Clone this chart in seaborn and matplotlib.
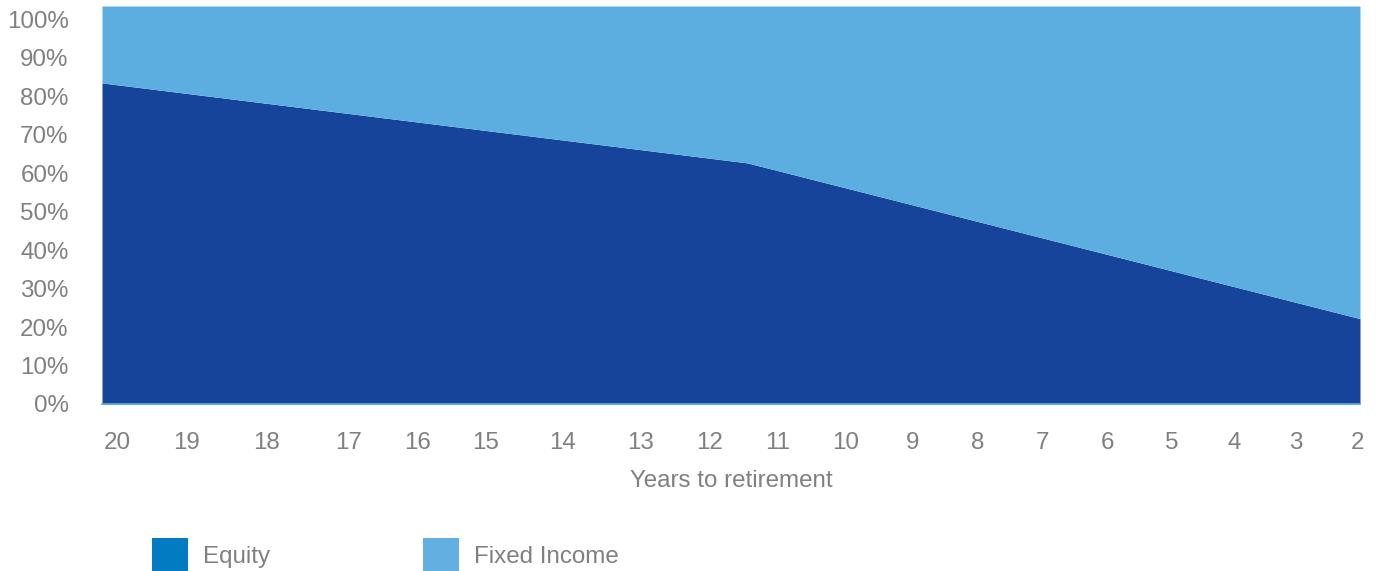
import matplotlib
matplotlib.use("Agg")
import matplotlib.pyplot as plt
from matplotlib.patches import Patch
import seaborn as sns

# glide path: position along the path (0 = 20 years out, 1 = 2 years out)
path_pos = [0.0, 0.513, 1.0]
equity = [83.5, 62.7, 22.2]
fixed_income = [100 - e for e in equity]

years = [20, 19, 18, 17, 16, 15, 14, 13, 12, 11, 10, 9, 8, 7, 6, 5, 4, 3, 2]
year_pos = [0.012, 0.067, 0.131, 0.196, 0.251, 0.305, 0.366, 0.428, 0.483,
            0.537, 0.591, 0.644, 0.696, 0.748, 0.799, 0.850, 0.900, 0.949, 0.998]
pct_ticks = list(range(0, 101, 10))

sns.set_theme(style="white")
plt.rcParams["font.family"] = ["Liberation Sans", "DejaVu Sans"]

gray = "#808080"
dark = "#15449a"
light = "#5daee0"
ymax = 103.5
fs = 17.4

fig = plt.figure(figsize=(13.83, 5.71), dpi=100)
ax = fig.add_axes([102 / 1383, 1 - 404 / 571, 1258 / 1383, 398 / 571])

ax.fill_between(path_pos, 0, equity, color=dark, lw=0)
ax.fill_between(path_pos, equity, ymax, color=light, lw=0)

ax.set_xlim(0, 1)
ax.set_ylim(0, ymax)
ax.set_yticks(pct_ticks)
ax.set_yticklabels([f"{p}%" for p in pct_ticks])
ax.set_xticks(year_pos)
ax.set_xticklabels([str(y) for y in years])
ax.tick_params(axis="y", length=0, pad=24, labelsize=fs, labelcolor=gray)
ax.tick_params(axis="x", length=0, pad=20, labelsize=fs, labelcolor=gray)
ax.set_xlabel("Years to retirement", fontsize=fs, color=gray, labelpad=12)

for s in ["top", "right", "left"]:
    ax.spines[s].set_visible(False)
ax.spines["bottom"].set_color(light)
ax.spines["bottom"].set_linewidth(1.2)

handles = [Patch(facecolor="#027bc2", edgecolor="none", label="Equity"),
           Patch(facecolor="#64afe2", edgecolor="none", label="Fixed Income")]
fig.legend(handles=handles, loc="center left", bbox_to_anchor=(152 / 1383, 1 - 555 / 571),
           ncol=2, frameon=False, fontsize=fs, labelcolor=gray,
           handlelength=1.5, handleheight=1.79, handletextpad=0.62,
           columnspacing=6.3, borderpad=0, borderaxespad=0)

fig.savefig("out.png", dpi=100)
